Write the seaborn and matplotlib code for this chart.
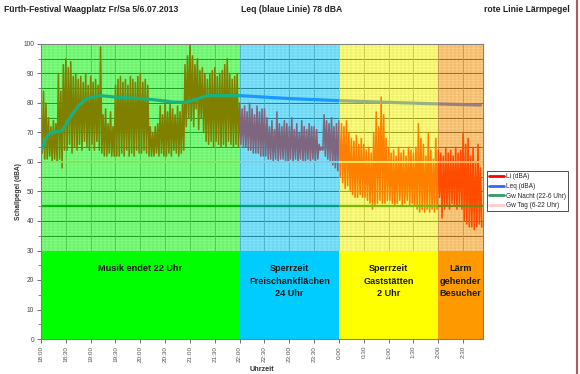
import numpy as np
import pandas as pd
import matplotlib
matplotlib.use("Agg")
import matplotlib.pyplot as plt
import seaborn as sns
from matplotlib.lines import Line2D
from matplotlib.ticker import MultipleLocator

# ---------------- data ----------------
li_step_min = 3  # Li peak / trough per 3-minute interval from 18:00
li_hi = [
    76, 84, 80, 75, 72, 74, 73, 90, 84, 93,
    95, 92, 94, 89, 90, 88, 89, 87, 90, 86,
    89, 87, 88, 86, 99, 76, 78, 73, 77, 72,
    86, 88, 89, 87, 88, 86, 89, 88, 87, 89,
    90, 87, 88, 86, 72, 70, 72, 73, 79, 76,
    81, 77, 80, 78, 76, 79, 77, 80, 93, 96,
    100, 96, 93, 95, 91, 92, 90, 88, 90, 91,
    92, 89, 90, 91, 93, 95, 90, 88, 89, 90,
    80, 78, 79, 77, 80, 78, 76, 79, 77, 78,
    78, 75, 72, 74, 71, 77, 73, 72, 74, 73,
    72, 75, 71, 73, 70, 74, 72, 71, 73, 72,
    72, 71, 66, 65, 76, 74, 73, 75, 72, 73,
    74, 73, 72, 74, 70, 68, 67, 69, 66, 68,
    66, 64, 65, 63, 70, 77, 72, 82, 76, 68,
    65, 63, 64, 62, 65, 63, 64, 62, 65, 64,
    63, 65, 73, 68, 66, 62, 70, 64, 61, 68,
    64, 63, 62, 65, 63, 64, 62, 65, 63, 64,
    70, 66, 68, 62, 65, 60, 66, 58,
]
li_lo = [
    63, 61, 61, 62, 60, 61, 60, 61, 58, 64,
    64, 66, 63, 65, 64, 66, 64, 67, 65, 64,
    66, 64, 67, 64, 63, 62, 62, 63, 62, 62,
    62, 62, 63, 62, 64, 62, 63, 62, 64, 63,
    63, 64, 63, 62, 62, 62, 63, 62, 63, 62,
    62, 63, 62, 64, 63, 62, 63, 64, 72, 75,
    74, 72, 78, 71, 75, 70, 67, 66, 67, 65,
    67, 66, 65, 66, 65, 67, 66, 65, 66, 65,
    66, 65, 65, 64, 64, 63, 63, 63, 62, 62,
    62, 61, 61, 60, 61, 60, 61, 61, 60, 60,
    61, 60, 61, 60, 61, 60, 60, 61, 60, 61,
    60, 61, 64, 64, 62, 61, 60, 59, 58, 57,
    55, 53, 51, 52, 50, 49, 48, 48, 49, 48,
    48, 47, 46, 44, 45, 46, 47, 46, 46, 47,
    47, 46, 45, 46, 47, 45, 46, 47, 45, 46,
    45, 44, 43, 44, 43, 44, 43, 44, 43, 44,
    48, 41, 44, 45, 44, 46, 45, 44, 45, 44,
    40, 39, 38, 38, 37, 38, 39, 38,
]
leq_minutes = [0, 8, 12, 25, 35, 45, 55, 72, 90, 120, 140, 160, 175,
               190, 200, 240, 300, 360, 420, 480, 531]
leq_values = [64, 69, 70, 70.5, 75, 79, 81.5, 82.5, 82, 81.5, 81, 80.3, 80.2,
              81.5, 82.5, 82.5, 81.5, 80.8, 80.2, 79.7, 79.3]
gw_nacht = 45
gw_tag = 60
tick_labels = ["18:00", "18:30", "19:00", "19:30", "20:00", "20:30", "21:00",
               "21:30", "22:00", "22:30", "23:00", "23:30", "0:00", "0:30",
               "1:00", "1:30", "2:00", "2:30"]
zone_starts = [0, 240, 360, 480]
zone_ends = [240, 360, 480, 534]
zone_colors = ["#00ff00", "#00ccff", "#ffff00", "#ff9900"]
zone_labels = ["Musik endet 22 Uhr",
               "Sperrzeit\nFreischankflächen\n24 Uhr",
               "Sperrzeit\nGaststätten\n2 Uhr",
               "Lärm\ngehender\nBesucher"]
legend_labels = ["Li (dBA)", "Leq (dBA)", "Gw Nacht (22-6 Uhr)", "Gw Tag (6-22 Uhr)"]

# ---------------- style ----------------
sns.set_theme(style="white")
plt.rcParams["font.family"] = ["Liberation Sans", "DejaVu Sans"]

W, H = 580, 374
fig = plt.figure(figsize=(W / 100, H / 100), dpi=100)
fig.patch.set_facecolor("white")
ax = fig.add_axes([41 / W, 35 / H, 442 / W, 295 / H])

x_end = zone_ends[-1]
ax.set_xlim(0, x_end)
ax.set_ylim(0, 100)

# fine background grid
ax.vlines(np.arange(5, x_end, 5), 0, 100, color="#b8b8b8", lw=0.3, zorder=0.4)
ax.hlines(np.arange(1, 100, 1), 0, x_end, color="#b8b8b8", lw=0.3, zorder=0.4)
# major grid
ax.hlines(np.arange(5, 100, 5), 0, x_end, color="#202020", lw=0.6, zorder=0.5)
ax.vlines(np.arange(30, x_end, 30), 0, 100, color="#909090", lw=0.6, zorder=0.5)

# Li as a dense trace: each interval's peak, then its trough half a step later
n = len(li_hi)
t0 = np.arange(n) * li_step_min
df_li = pd.DataFrame({
    "t": np.ravel(np.column_stack([t0, t0 + li_step_min / 2])),
    "Li": np.ravel(np.column_stack([li_hi, li_lo])),
})
df_leq = pd.DataFrame({"t": leq_minutes, "Leq": leq_values})
sns.lineplot(data=df_li, x="t", y="Li", color="#ff0000", lw=1.15, ax=ax,
             zorder=2, sort=False, estimator=None)
sns.lineplot(data=df_leq, x="t", y="Leq", color="#3366ff", lw=2.3, ax=ax, zorder=2.3)
ax.axhline(gw_nacht, color="#006e14", lw=1.7, zorder=2.1)
ax.axhline(gw_tag, color="#ffcccc", lw=1.4, zorder=2.1)

# zones: translucent over the data, solid below 30
for s, e, c, lab in zip(zone_starts, zone_ends, zone_colors, zone_labels):
    ax.axvspan(s, e, ymin=0.3, ymax=1.0, color=c, alpha=0.5, lw=0, zorder=3)
    ax.axvspan(s, e, ymin=0.0, ymax=0.3, color=c, alpha=1.0, lw=0, zorder=4)
    ax.text((s + e) / 2, 25.3, lab, ha="center", va="top", fontsize=6.6,
            fontweight="bold", color="#1a1a1a", linespacing=1.45, zorder=5)

# ticks
ax.set_xticks(np.arange(0, x_end, 30))
ax.set_xticklabels(tick_labels, rotation=90, fontsize=4.6, color="#555555")
ax.set_yticks(np.arange(0, 101, 10))
ax.yaxis.set_minor_locator(MultipleLocator(5))
ax.tick_params(axis="y", which="major", labelsize=4.8, labelcolor="#444444",
               length=3, width=0.6, color="#555555", left=True, pad=2)
ax.tick_params(axis="y", which="minor", length=2, width=0.5, color="#555555", left=True)
ax.tick_params(axis="x", which="major", length=3, width=0.6, color="#555555",
               bottom=True, pad=2)
for sp in ax.spines.values():
    sp.set_color("#808080")
    sp.set_linewidth(0.8)
    sp.set_zorder(6)

ax.set_xlabel("Uhrzeit", fontsize=5.2, fontweight="bold", color="#333333", labelpad=3)
ax.set_ylabel("Schallpegel (dBA)", fontsize=4.8, fontweight="bold", color="#333333",
              labelpad=0.5)

# legend
handles = [Line2D([], [], color=c, lw=2) for c in ["#ff0000", "#3366ff", "#339966", "#ffcccc"]]
leg = fig.legend(handles, legend_labels, loc="upper left",
                 bbox_to_anchor=(487 / W, 1 - 171 / H), fontsize=4.7, frameon=True,
                 fancybox=False, edgecolor="#000000", handlelength=2.2,
                 handletextpad=0.3, borderpad=0.35, labelspacing=0.4,
                 borderaxespad=0)
leg.get_frame().set_linewidth(0.6)

# header texts
fig.text(4 / W, 1 - 10 / H, "Fürth-Festival Waagplatz Fr/Sa 5/6.07.2013", fontsize=6.2,
         fontweight="bold", color="#222222", va="center", ha="left")
fig.text(241 / W, 1 - 10 / H, "Leq (blaue Linie) 78 dBA", fontsize=6.2,
         fontweight="bold", color="#222222", va="center", ha="left")
fig.text(570 / W, 1 - 10 / H, "rote Linie Lärmpegel", fontsize=6.2,
         fontweight="bold", color="#222222", va="center", ha="right")

# right frame border
fig.add_artist(Line2D([577 / W, 577 / W], [0, 1], transform=fig.transFigure,
                      color="#b05a5a", lw=1.5))

fig.savefig("out.png", dpi=100)
